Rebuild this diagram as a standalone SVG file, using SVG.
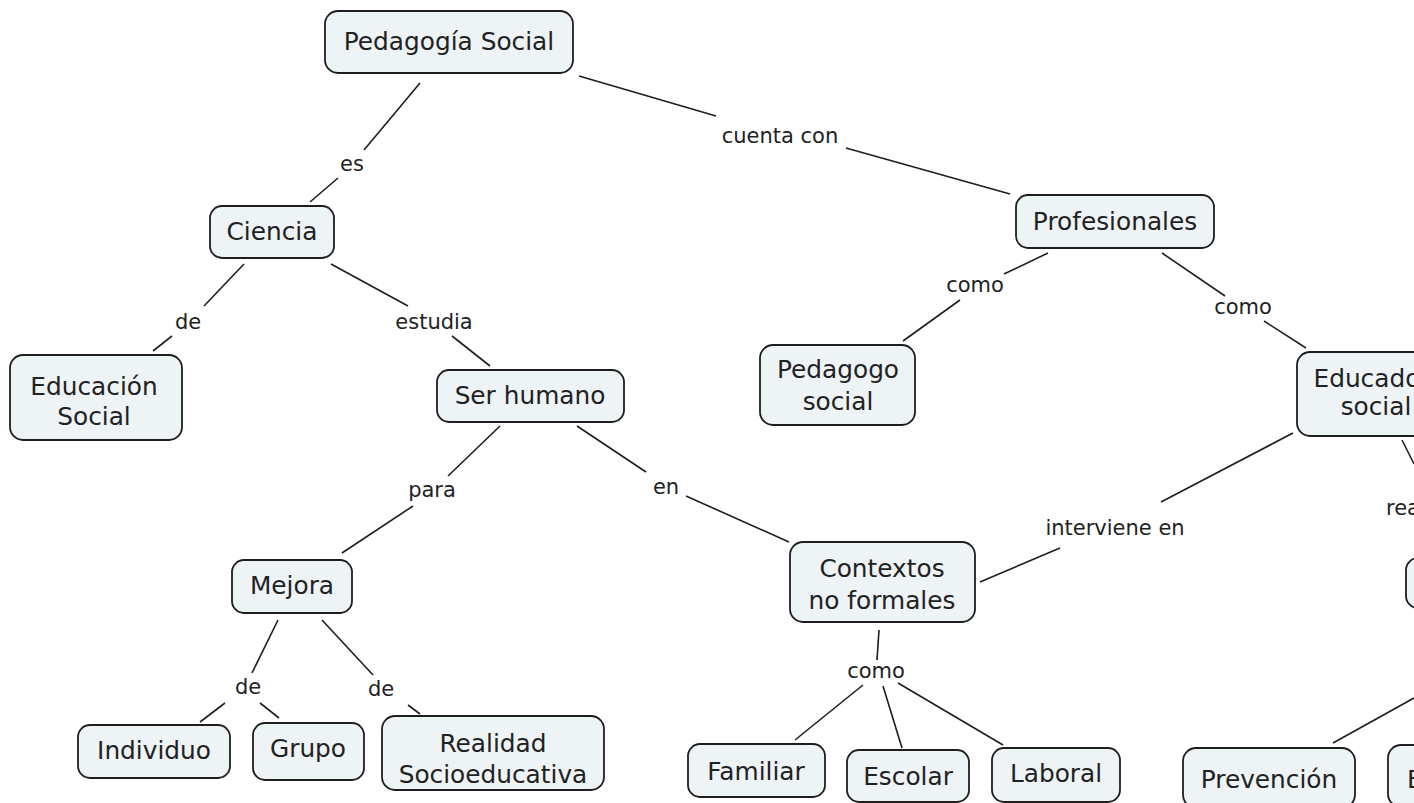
<svg xmlns="http://www.w3.org/2000/svg" width="1414" height="803" viewBox="0 0 1414 803">
<style>
.n rect{fill:#eef3f6;stroke:#1e1e1e;stroke-width:1.8}
.n text{font-family:"DejaVu Sans",Verdana,sans-serif;font-size:24.8px;fill:#222;text-anchor:middle}
.l text{font-family:"DejaVu Sans",Verdana,sans-serif;font-size:21px;fill:#222;text-anchor:middle}
#connectors line{stroke:#1e1e1e;stroke-width:1.6;fill:none}
</style>
<rect x="0" y="0" width="1414" height="803" fill="#ffffff"/>
<g id="connectors">
<line x1="420" y1="83" x2="364" y2="150"/>
<line x1="338" y1="178" x2="310" y2="202"/>
<line x1="579" y1="76" x2="716" y2="116"/>
<line x1="846" y1="148" x2="1010" y2="194"/>
<line x1="244" y1="264" x2="204" y2="306"/>
<line x1="172" y1="336" x2="153" y2="351"/>
<line x1="331" y1="264" x2="408" y2="306"/>
<line x1="452" y1="336" x2="490" y2="366"/>
<line x1="1048" y1="253" x2="1004" y2="274"/>
<line x1="960" y1="300" x2="903" y2="341"/>
<line x1="1162" y1="253" x2="1225" y2="296"/>
<line x1="1264" y1="321" x2="1306" y2="348"/>
<line x1="500" y1="426" x2="448" y2="476"/>
<line x1="413" y1="506" x2="342" y2="553"/>
<line x1="577" y1="426" x2="646" y2="472"/>
<line x1="686" y1="496" x2="789" y2="542"/>
<line x1="1293" y1="433" x2="1161" y2="502"/>
<line x1="1060" y1="548" x2="980" y2="582"/>
<line x1="1402" y1="440" x2="1414" y2="464"/>
<line x1="278" y1="620" x2="252" y2="673"/>
<line x1="225" y1="703" x2="200" y2="722"/>
<line x1="260" y1="703" x2="279" y2="718"/>
<line x1="322" y1="620" x2="373" y2="675"/>
<line x1="408" y1="705" x2="420" y2="714"/>
<line x1="879" y1="630" x2="877" y2="660"/>
<line x1="863" y1="685" x2="795" y2="740"/>
<line x1="883" y1="686" x2="902" y2="748"/>
<line x1="898" y1="683" x2="1003" y2="745"/>
<line x1="1414" y1="698" x2="1333" y2="743"/>
</g>
<g id="labels" class="l">
<text x="352" y="171">es</text>
<text x="780" y="143">cuenta con</text>
<text x="188" y="329">de</text>
<text x="434" y="329">estudia</text>
<text x="975" y="292">como</text>
<text x="1243" y="314">como</text>
<text x="432" y="497">para</text>
<text x="666" y="494">en</text>
<text x="1115" y="535">interviene en</text>
<text x="1386" y="515" style="text-anchor:start">rea</text>
<text x="248" y="694">de</text>
<text x="381" y="696">de</text>
<text x="876" y="678">como</text>
</g>
<g id="n1" class="n"><rect x="325" y="11" width="248" height="62" rx="13"/><text x="449" y="50">Pedagogía Social</text></g>
<g id="n2" class="n"><rect x="210" y="206" width="124" height="52" rx="12"/><text x="272" y="240">Ciencia</text></g>
<g id="n3" class="n"><rect x="1016" y="195" width="198" height="53" rx="12"/><text x="1115" y="230">Profesionales</text></g>
<g id="n4" class="n"><rect x="10" y="355" width="172" height="85" rx="13"/><text x="94" y="395">Educación</text><text x="94" y="425">Social</text></g>
<g id="n5" class="n"><rect x="437" y="370" width="187" height="52" rx="12"/><text x="530" y="404">Ser humano</text></g>
<g id="n6" class="n"><rect x="760" y="345" width="155" height="80" rx="13"/><text x="838" y="378">Pedagogo</text><text x="838" y="410">social</text></g>
<g id="n7" class="n"><rect x="1297" y="352" width="150" height="84" rx="13"/><text x="1372" y="387">Educador</text><text x="1376" y="415">social</text></g>
<g id="n8" class="n"><rect x="232" y="560" width="120" height="53" rx="12"/><text x="292" y="594">Mejora</text></g>
<g id="n9" class="n"><rect x="790" y="542" width="185" height="80" rx="13"/><text x="882" y="577">Contextos</text><text x="882" y="609">no formales</text></g>
<g id="n10" class="n"><rect x="78" y="725" width="152" height="53" rx="12"/><text x="154" y="759">Individuo</text></g>
<g id="n11" class="n"><rect x="253" y="723" width="111" height="57" rx="12"/><text x="308" y="757">Grupo</text></g>
<g id="n12" class="n"><rect x="382" y="716" width="222" height="74" rx="13"/><text x="493" y="752">Realidad</text><text x="493" y="783">Socioeducativa</text></g>
<g id="n13" class="n"><rect x="688" y="744" width="137" height="53" rx="12"/><text x="756" y="780">Familiar</text></g>
<g id="n14" class="n"><rect x="847" y="750" width="122" height="52" rx="12"/><text x="908" y="785">Escolar</text></g>
<g id="n15" class="n"><rect x="992" y="748" width="128" height="54" rx="12"/><text x="1056" y="782">Laboral</text></g>
<g id="n16" class="n"><rect x="1183" y="748" width="172" height="60" rx="13"/><text x="1269" y="788">Prevención</text></g>
<g id="n17" class="n"><rect x="1388" y="745" width="120" height="62" rx="13"/><text x="1407" y="788" style="text-anchor:start">E</text></g>
<g id="n18" class="n"><rect x="1406" y="558" width="120" height="50" rx="12"/></g>
</svg>
